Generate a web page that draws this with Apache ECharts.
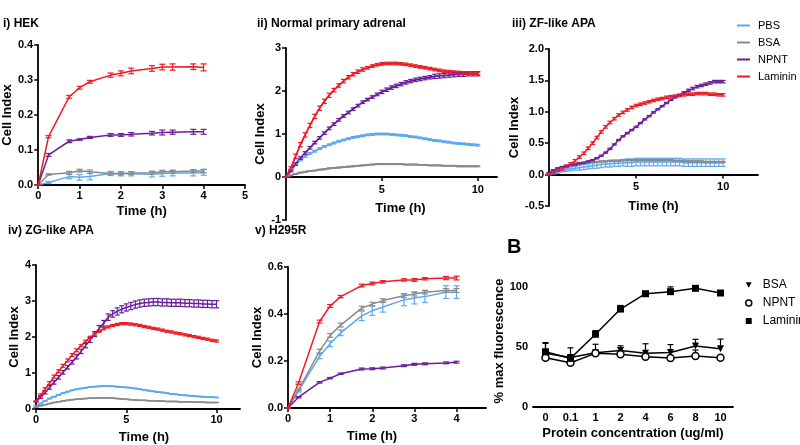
<!DOCTYPE html>
<html><head><meta charset="utf-8">
<script src="https://cdn.jsdelivr.net/npm/echarts@6/dist/echarts.min.js"></script>
<style>html,body{margin:0;padding:0;background:#fff}#c{width:800px;height:445px}</style>
</head><body><div id="c"></div><script>
// ---------- data ----------
const seriesNames = ['PBS', 'BSA', 'NPNT', 'Laminin'];
const tShort = [0, 0.25, 0.75, 1, 1.25, 1.75, 2, 2.25, 2.75, 3, 3.25, 3.75, 4];
const tLong = [0, 0.25, 0.5, 0.75, 1, 1.25, 1.5, 1.75, 2, 2.25, 2.5, 2.75, 3, 3.25, 3.5, 3.75, 4, 4.25, 4.5, 4.75, 5, 5.25, 5.5, 5.75, 6, 6.25, 6.5, 6.75, 7, 7.25, 7.5, 7.75, 8, 8.25, 8.5, 8.75, 9, 9.25, 9.5, 9.75, 10];

// i) HEK
const hekPBS = [0, 0.007, 0.024, 0.022, 0.024, 0.033, 0.032, 0.032, 0.031, 0.033, 0.034, 0.034, 0.036];
const hekPBSErr = [0, 0.003, 0.006, 0.008, 0.009, 0.006, 0.006, 0.006, 0.008, 0.008, 0.008, 0.008, 0.008];
const hekBSA = [0, 0.030, 0.035, 0.041, 0.038, 0.033, 0.033, 0.034, 0.035, 0.038, 0.038, 0.040, 0.040];
const hekBSAErr = [0, 0.002, 0.004, 0.004, 0.005, 0.004, 0.004, 0.004, 0.004, 0.004, 0.004, 0.004, 0.005];
const hekNPNT = [0, 0.086, 0.125, 0.130, 0.136, 0.143, 0.143, 0.145, 0.148, 0.150, 0.151, 0.152, 0.152];
const hekNPNTErr = [0, 0.004, 0.004, 0.002, 0.003, 0.004, 0.004, 0.005, 0.005, 0.007, 0.006, 0.007, 0.007];
const hekLam = [0, 0.138, 0.252, 0.278, 0.295, 0.314, 0.319, 0.326, 0.333, 0.337, 0.337, 0.338, 0.336];
const hekLamErr = [0, 0.003, 0.004, 0.004, 0.004, 0.006, 0.007, 0.008, 0.008, 0.008, 0.009, 0.008, 0.010];

// ii) Normal primary adrenal
const adrPBS = [0, 0.18, 0.3, 0.4, 0.48, 0.55, 0.6, 0.66, 0.71, 0.75, 0.79, 0.83, 0.86, 0.89, 0.92, 0.94, 0.96, 0.98, 0.99, 1.0, 1.0, 1.0, 0.99, 0.98, 0.97, 0.96, 0.94, 0.93, 0.91, 0.89, 0.87, 0.85, 0.84, 0.82, 0.81, 0.79, 0.78, 0.77, 0.76, 0.75, 0.74];
const adrPBSErr = [0, 0.01, 0.01, 0.02, 0.02, 0.02, 0.02, 0.02, 0.02, 0.02, 0.02, 0.02, 0.02, 0.02, 0.02, 0.02, 0.02, 0.02, 0.02, 0.02, 0.02, 0.02, 0.02, 0.02, 0.02, 0.02, 0.02, 0.02, 0.02, 0.02, 0.02, 0.02, 0.02, 0.02, 0.02, 0.02, 0.02, 0.02, 0.02, 0.02, 0.02];
const adrBSA = [0, 0.04, 0.07, 0.1, 0.12, 0.14, 0.15, 0.17, 0.18, 0.2, 0.21, 0.22, 0.23, 0.24, 0.25, 0.26, 0.27, 0.28, 0.29, 0.3, 0.3, 0.3, 0.3, 0.3, 0.3, 0.29, 0.29, 0.29, 0.28, 0.28, 0.27, 0.27, 0.27, 0.26, 0.26, 0.26, 0.25, 0.25, 0.25, 0.25, 0.25];
const adrBSAErr = [0, 0.01, 0.01, 0.01, 0.01, 0.01, 0.01, 0.01, 0.01, 0.01, 0.01, 0.01, 0.01, 0.01, 0.01, 0.01, 0.01, 0.01, 0.01, 0.01, 0.01, 0.01, 0.01, 0.01, 0.01, 0.01, 0.01, 0.01, 0.01, 0.01, 0.01, 0.01, 0.01, 0.01, 0.01, 0.01, 0.01, 0.01, 0.01, 0.01, 0.01];
const adrNPNT = [0, 0.14, 0.3, 0.44, 0.56, 0.68, 0.8, 0.91, 1.02, 1.13, 1.23, 1.33, 1.42, 1.5, 1.58, 1.66, 1.74, 1.8, 1.86, 1.92, 1.98, 2.03, 2.08, 2.12, 2.16, 2.2, 2.23, 2.26, 2.28, 2.3, 2.32, 2.34, 2.35, 2.36, 2.37, 2.38, 2.39, 2.39, 2.4, 2.4, 2.4];
const adrNPNTErr = [0, 0.02, 0.03, 0.03, 0.03, 0.03, 0.03, 0.03, 0.03, 0.03, 0.03, 0.03, 0.03, 0.03, 0.03, 0.03, 0.03, 0.03, 0.03, 0.03, 0.04, 0.04, 0.04, 0.04, 0.04, 0.04, 0.04, 0.04, 0.04, 0.04, 0.04, 0.05, 0.05, 0.05, 0.05, 0.05, 0.05, 0.05, 0.05, 0.05, 0.05];
const adrLam = [0, 0.2, 0.48, 0.75, 0.98, 1.2, 1.41, 1.6, 1.76, 1.9, 2.02, 2.13, 2.23, 2.32, 2.39, 2.45, 2.5, 2.54, 2.58, 2.61, 2.63, 2.64, 2.64, 2.64, 2.63, 2.62, 2.6, 2.58, 2.56, 2.54, 2.52, 2.5, 2.48, 2.46, 2.45, 2.44, 2.43, 2.42, 2.42, 2.41, 2.41];
const adrLamErr = [0, 0.04, 0.05, 0.05, 0.05, 0.05, 0.05, 0.05, 0.05, 0.05, 0.04, 0.04, 0.04, 0.04, 0.04, 0.04, 0.04, 0.03, 0.03, 0.03, 0.03, 0.03, 0.03, 0.03, 0.03, 0.03, 0.03, 0.03, 0.03, 0.03, 0.03, 0.03, 0.03, 0.03, 0.03, 0.03, 0.03, 0.03, 0.03, 0.03, 0.03];

// iii) ZF-like APA
const zfPBS = [0, 0.02, 0.04, 0.06, 0.08, 0.09, 0.1, 0.11, 0.12, 0.13, 0.14, 0.15, 0.16, 0.17, 0.17, 0.18, 0.18, 0.19, 0.19, 0.19, 0.2, 0.2, 0.2, 0.2, 0.2, 0.2, 0.2, 0.2, 0.2, 0.2, 0.2, 0.19, 0.19, 0.19, 0.19, 0.19, 0.19, 0.19, 0.19, 0.19, 0.19];
const zfPBSErr = [0, 0.01, 0.02, 0.02, 0.03, 0.03, 0.03, 0.04, 0.04, 0.04, 0.04, 0.05, 0.05, 0.05, 0.05, 0.05, 0.05, 0.05, 0.06, 0.06, 0.06, 0.06, 0.06, 0.06, 0.06, 0.06, 0.06, 0.06, 0.06, 0.06, 0.06, 0.06, 0.06, 0.06, 0.06, 0.06, 0.06, 0.06, 0.06, 0.06, 0.06];
const zfBSA = [0.02, 0.06, 0.09, 0.11, 0.13, 0.15, 0.16, 0.17, 0.18, 0.19, 0.2, 0.2, 0.21, 0.21, 0.22, 0.22, 0.22, 0.23, 0.23, 0.23, 0.23, 0.23, 0.23, 0.23, 0.23, 0.23, 0.23, 0.23, 0.23, 0.22, 0.22, 0.22, 0.21, 0.21, 0.21, 0.21, 0.2, 0.2, 0.2, 0.2, 0.2];
const zfBSAErr = [0, 0.01, 0.01, 0.01, 0.01, 0.01, 0.01, 0.01, 0.01, 0.01, 0.01, 0.01, 0.01, 0.01, 0.01, 0.01, 0.01, 0.01, 0.01, 0.01, 0.01, 0.01, 0.01, 0.01, 0.01, 0.01, 0.01, 0.01, 0.01, 0.01, 0.01, 0.01, 0.01, 0.01, 0.01, 0.01, 0.01, 0.01, 0.01, 0.01, 0.01];
const zfNPNT = [0.03, 0.07, 0.1, 0.12, 0.14, 0.15, 0.16, 0.18, 0.19, 0.21, 0.23, 0.26, 0.3, 0.35, 0.41, 0.48, 0.55, 0.61, 0.66, 0.71, 0.76, 0.82, 0.88, 0.93, 0.99, 1.04, 1.09, 1.14, 1.19, 1.23, 1.27, 1.31, 1.34, 1.37, 1.4, 1.42, 1.44, 1.46, 1.48, 1.48, 1.48];
const zfNPNTErr = [0, 0.01, 0.01, 0.01, 0.01, 0.01, 0.01, 0.01, 0.01, 0.01, 0.01, 0.01, 0.01, 0.01, 0.01, 0.01, 0.01, 0.01, 0.01, 0.01, 0.01, 0.01, 0.01, 0.01, 0.01, 0.01, 0.01, 0.01, 0.01, 0.01, 0.01, 0.01, 0.02, 0.02, 0.02, 0.02, 0.02, 0.02, 0.02, 0.02, 0.02];
const zfLam = [0, 0.03, 0.06, 0.09, 0.13, 0.17, 0.22, 0.28, 0.34, 0.42, 0.5, 0.59, 0.68, 0.76, 0.83, 0.89, 0.95, 0.99, 1.03, 1.07, 1.1, 1.12, 1.14, 1.16, 1.18, 1.2, 1.21, 1.23, 1.24, 1.25, 1.26, 1.27, 1.28, 1.28, 1.29, 1.29, 1.29, 1.28, 1.28, 1.27, 1.27];
const zfLamErr = [0, 0.01, 0.01, 0.02, 0.02, 0.02, 0.02, 0.02, 0.02, 0.02, 0.02, 0.02, 0.02, 0.02, 0.02, 0.02, 0.02, 0.02, 0.02, 0.02, 0.02, 0.02, 0.02, 0.02, 0.02, 0.02, 0.02, 0.02, 0.02, 0.02, 0.02, 0.02, 0.02, 0.02, 0.02, 0.02, 0.02, 0.02, 0.02, 0.02, 0.02];

// iv) ZG-like APA
const zgPBS = [0.08, 0.15, 0.22, 0.29, 0.34, 0.39, 0.44, 0.48, 0.52, 0.55, 0.57, 0.59, 0.61, 0.62, 0.63, 0.64, 0.64, 0.63, 0.62, 0.61, 0.6, 0.59, 0.57, 0.55, 0.53, 0.51, 0.49, 0.47, 0.46, 0.44, 0.42, 0.41, 0.39, 0.38, 0.37, 0.36, 0.35, 0.34, 0.33, 0.33, 0.32];
const zgPBSErr = [0, 0.01, 0.01, 0.01, 0.01, 0.01, 0.01, 0.01, 0.01, 0.01, 0.01, 0.01, 0.01, 0.01, 0.01, 0.01, 0.01, 0.01, 0.01, 0.01, 0.01, 0.01, 0.01, 0.01, 0.01, 0.01, 0.01, 0.01, 0.01, 0.01, 0.01, 0.01, 0.01, 0.01, 0.01, 0.01, 0.01, 0.01, 0.01, 0.01, 0.01];
const zgBSA = [0.05, 0.09, 0.12, 0.15, 0.18, 0.2, 0.22, 0.24, 0.26, 0.27, 0.28, 0.29, 0.3, 0.3, 0.31, 0.31, 0.31, 0.3, 0.29, 0.28, 0.27, 0.26, 0.25, 0.24, 0.24, 0.23, 0.23, 0.22, 0.22, 0.21, 0.21, 0.21, 0.2, 0.2, 0.2, 0.19, 0.19, 0.19, 0.18, 0.18, 0.18];
const zgBSAErr = [0, 0.005, 0.005, 0.005, 0.005, 0.005, 0.005, 0.005, 0.005, 0.005, 0.005, 0.005, 0.005, 0.005, 0.005, 0.005, 0.005, 0.005, 0.005, 0.005, 0.005, 0.005, 0.005, 0.005, 0.005, 0.005, 0.005, 0.005, 0.005, 0.005, 0.005, 0.005, 0.005, 0.005, 0.005, 0.005, 0.005, 0.005, 0.005, 0.005, 0.005];
const zgNPNT = [0.2, 0.33, 0.46, 0.6, 0.74, 0.88, 1.02, 1.16, 1.3, 1.45, 1.6, 1.76, 1.92, 2.08, 2.24, 2.38, 2.55, 2.64, 2.71, 2.77, 2.82, 2.86, 2.9, 2.93, 2.95, 2.96, 2.97, 2.97, 2.96, 2.96, 2.95, 2.95, 2.95, 2.94, 2.94, 2.93, 2.93, 2.92, 2.92, 2.91, 2.91];
const zgNPNTErr = [0, 0.04, 0.04, 0.05, 0.05, 0.05, 0.05, 0.05, 0.05, 0.06, 0.06, 0.06, 0.07, 0.07, 0.08, 0.08, 0.09, 0.09, 0.1, 0.1, 0.1, 0.1, 0.1, 0.1, 0.1, 0.1, 0.1, 0.1, 0.1, 0.1, 0.1, 0.1, 0.1, 0.1, 0.1, 0.1, 0.1, 0.1, 0.1, 0.1, 0.1];
const zgLam = [0.22, 0.38, 0.55, 0.72, 0.9, 1.05, 1.2, 1.35, 1.5, 1.63, 1.76, 1.88, 1.99, 2.08, 2.16, 2.23, 2.28, 2.32, 2.35, 2.37, 2.37, 2.36, 2.34, 2.32, 2.29, 2.27, 2.24, 2.22, 2.19, 2.16, 2.14, 2.11, 2.09, 2.06, 2.04, 2.01, 1.99, 1.96, 1.94, 1.91, 1.89];
const zgLamErr = [0, 0.04, 0.04, 0.04, 0.04, 0.04, 0.04, 0.04, 0.04, 0.04, 0.03, 0.03, 0.03, 0.03, 0.03, 0.03, 0.03, 0.03, 0.03, 0.03, 0.03, 0.03, 0.03, 0.03, 0.03, 0.03, 0.03, 0.03, 0.03, 0.03, 0.03, 0.03, 0.03, 0.03, 0.03, 0.03, 0.03, 0.03, 0.03, 0.03, 0.03];

// v) H295R
const hPBS = [0, 0.073, 0.22, 0.273, 0.32, 0.392, 0.414, 0.43, 0.46, 0.468, 0.474, 0.493, 0.493];
const hPBSErr = [0, 0.005, 0.01, 0.012, 0.012, 0.02, 0.02, 0.022, 0.025, 0.025, 0.025, 0.027, 0.027];
const hBSA = [0, 0.077, 0.242, 0.309, 0.353, 0.425, 0.442, 0.457, 0.478, 0.485, 0.493, 0.5, 0.5];
const hBSAErr = [0, 0.004, 0.008, 0.008, 0.008, 0.008, 0.008, 0.008, 0.008, 0.008, 0.008, 0.008, 0.008];
const hNPNT = [0, 0.046, 0.109, 0.127, 0.146, 0.166, 0.167, 0.17, 0.18, 0.186, 0.188, 0.192, 0.195];
const hNPNTErr = [0, 0.003, 0.003, 0.003, 0.003, 0.004, 0.004, 0.004, 0.004, 0.004, 0.004, 0.004, 0.004];
const hLam = [0, 0.106, 0.368, 0.434, 0.474, 0.521, 0.53, 0.537, 0.545, 0.545, 0.55, 0.553, 0.553];
const hLamErr = [0, 0.005, 0.006, 0.006, 0.005, 0.006, 0.006, 0.005, 0.005, 0.006, 0.005, 0.007, 0.008];

// B) fluorescence
const concLabels = ['0', '0.1', '1', '2', '4', '6', '8', '10'];
const bBSA = [44.7, 41.3, 45.3, 47, 44.7, 45.5, 50.8, 48.6];
const bBSAErr = [9, 8, 7, 4, 8, 6.5, 5.6, 8];
const bNPNT = [41, 36.9, 44.7, 43.9, 41.9, 40.8, 42.5, 41];
const bNPNTErr = [1, 1, 1, 1, 1, 1, 5, 1];
const bLam = [46, 40.5, 60.6, 81.6, 94.4, 96.1, 98.9, 95];
const bLamErr = [7, 2, 3, 3, 1, 4, 1, 2];

// ---------- styling ----------
const FONT = 'Liberation Sans, Arial, Helvetica, sans-serif';
const colors = { PBS: '#5ea8ef', BSA: '#8a8a8a', NPNT: '#6a1e9c', Laminin: '#ec1c24' };
const axisLine = { onZero: false, lineStyle: { color: '#000', width: 1.8 } };
const axisTick = { length: 4, lineStyle: { color: '#000', width: 1.5 } };
const labelStyle = { color: '#000', fontWeight: 'bold', fontSize: 11, fontFamily: FONT, margin: 5 };
const nameStyle = { color: '#000', fontWeight: 'bold', fontSize: 13, fontFamily: FONT };

const grids = [
  { left: 36, top: 45, width: 209, height: 140 },   // i
  { left: 286, top: 48, width: 211, height: 172 },  // ii
  { left: 549, top: 49, width: 209, height: 157 },  // iii
  { left: 36, top: 265, width: 204, height: 145 },  // iv
  { left: 288, top: 267, width: 198, height: 141 }, // v
  { left: 533, top: 275, width: 200, height: 132 }  // B
];

function xVal(gi, min, max, ticks, name, nameGap, pad, offset, margin) {
  return {
    type: 'value', gridIndex: gi, min: min, max: max, offset: offset || 0,
    axisLine: axisLine, splitLine: { show: false },
    axisTick: Object.assign({ customValues: ticks }, axisTick),
    axisLabel: Object.assign({}, labelStyle, { customValues: ticks, margin: margin || 5 }),
    name: name, nameLocation: 'middle', nameGap: nameGap,
    nameTextStyle: Object.assign({ padding: pad || 0 }, nameStyle)
  };
}
function yVal(gi, min, max, ticks, fmt, name, nameGap) {
  return {
    type: 'value', gridIndex: gi, min: min, max: max,
    axisLine: axisLine, splitLine: { show: false },
    axisTick: Object.assign({ customValues: ticks }, axisTick),
    axisLabel: Object.assign({ customValues: ticks, formatter: fmt }, labelStyle),
    name: name, nameLocation: 'middle', nameGap: nameGap,
    nameTextStyle: nameStyle
  };
}
const f1 = v => v.toFixed(1);
const f0 = v => String(v);

const xAxes = [
  xVal(0, 0, 5, [0, 1, 2, 3, 4, 5], 'Time (h)', 20),
  xVal(1, 0, 11, [5, 10], 'Time (h)', 25, [0, 0, 0, 18], -43, 7),
  xVal(2, 0, 12, [5, 10], 'Time (h)', 25, 0, -31.4, 7),
  xVal(3, 0, 11.3, [0, 5, 10], 'Time (h)', 22, [0, 0, 0, 12]),
  xVal(4, 0, 4.7, [0, 1, 2, 3, 4], 'Time (h)', 22, [0, 30, 0, 0]),
  {
    type: 'category', gridIndex: 5, data: concLabels, boundaryGap: true,
    axisLine: axisLine, axisTick: Object.assign({ alignWithLabel: true }, axisTick),
    axisLabel: labelStyle, splitLine: { show: false },
    name: 'Protein concentration (ug/ml)', nameLocation: 'middle', nameGap: 20, nameTextStyle: nameStyle
  }
];
const yAxes = [
  yVal(0, 0, 0.4, [0, 0.1, 0.2, 0.3, 0.4], f1, 'Cell Index', 24),
  yVal(1, -1, 3, [-1, 0, 1, 2, 3], f0, 'Cell Index', 16),
  yVal(2, -0.5, 2, [-0.5, 0, 0.5, 1, 1.5, 2], f1, 'Cell Index', 22),
  yVal(3, 0, 4, [0, 1, 2, 3, 4], f0, 'Cell Index', 14),
  yVal(4, 0, 0.6, [0, 0.2, 0.4, 0.6], f1, 'Cell Index', 22),
  yVal(5, 0, 110, [0, 50, 100], f0, '% max fluorescence', 24)
];

function errRender(cap, oneSided) {
  return function (params, api) {
    const x = api.value(0), lo = api.value(1), hi = api.value(2);
    const a = api.coord([x, lo]), b = api.coord([x, hi]);
    const st = { stroke: api.visual('color'), lineWidth: 1.2 };
    const ch = [
      { type: 'line', shape: { x1: a[0], y1: a[1], x2: b[0], y2: b[1] }, style: st },
      { type: 'line', shape: { x1: b[0] - cap, y1: b[1], x2: b[0] + cap, y2: b[1] }, style: st }
    ];
    if (!oneSided) ch.push({ type: 'line', shape: { x1: a[0] - cap, y1: a[1], x2: a[0] + cap, y2: a[1] }, style: st });
    return { type: 'group', children: ch };
  };
}

const series = [];
function addPanel(gi, xs, sets, cap, lw) {
  sets.forEach(([nm, ys, es]) => {
    const col = colors[nm];
    series.push({
      type: 'line', name: nm, xAxisIndex: gi, yAxisIndex: gi, showSymbol: false, symbol: 'none',
      data: xs.map((x, i) => [x, ys[i]]), lineStyle: { color: col, width: lw }, itemStyle: { color: col },
      silent: true, animation: false, z: 2
    });
    series.push({
      type: 'custom', xAxisIndex: gi, yAxisIndex: gi, renderItem: errRender(cap, false),
      itemStyle: { color: col }, data: xs.map((x, i) => [x, ys[i] - es[i], ys[i] + es[i]]),
      silent: true, animation: false, z: 3
    });
  });
}
addPanel(0, tShort, [['PBS', hekPBS, hekPBSErr], ['BSA', hekBSA, hekBSAErr], ['NPNT', hekNPNT, hekNPNTErr], ['Laminin', hekLam, hekLamErr]], 3, 1.5);
addPanel(1, tLong, [['PBS', adrPBS, adrPBSErr], ['BSA', adrBSA, adrBSAErr], ['NPNT', adrNPNT, adrNPNTErr], ['Laminin', adrLam, adrLamErr]], 2.5, 1.8);
addPanel(2, tLong, [['PBS', zfPBS, zfPBSErr], ['BSA', zfBSA, zfBSAErr], ['NPNT', zfNPNT, zfNPNTErr], ['Laminin', zfLam, zfLamErr]], 2.5, 1.5);
addPanel(3, tLong, [['PBS', zgPBS, zgPBSErr], ['BSA', zgBSA, zgBSAErr], ['NPNT', zgNPNT, zgNPNTErr], ['Laminin', zgLam, zgLamErr]], 2.5, 1.5);
addPanel(4, tShort, [['PBS', hPBS, hPBSErr], ['BSA', hBSA, hBSAErr], ['NPNT', hNPNT, hNPNTErr], ['Laminin', hLam, hLamErr]], 3, 1.5);

// Panel B
const bSets = [
  ['B:BSA', bBSA, bBSAErr, 'triangle', 180, '#000'],
  ['B:NPNT', bNPNT, bNPNTErr, 'circle', 0, '#fff'],
  ['B:Laminin', bLam, bLamErr, 'rect', 0, '#000']
];
bSets.forEach(([nm, ys, es, sym, rot, fill]) => {
  series.push({
    type: 'custom', xAxisIndex: 5, yAxisIndex: 5, renderItem: errRender(3, true),
    itemStyle: { color: '#000' }, data: ys.map((y, i) => [i, y, y + es[i]]), silent: true, animation: false, z: 1
  });
  series.push({
    type: 'line', name: nm, xAxisIndex: 5, yAxisIndex: 5, data: ys, symbol: sym, symbolRotate: rot,
    symbolSize: 7, showSymbol: true, lineStyle: { color: '#000', width: 1.5 },
    itemStyle: { color: fill, borderColor: '#000', borderWidth: sym === 'circle' ? 1.5 : 0 },
    silent: true, animation: false, z: 4
  });
});

const titleStyle = { color: '#000', fontWeight: 'bold', fontSize: 12, fontFamily: FONT };
const option = {
  backgroundColor: '#fff',
  animation: false,
  title: [
    { text: 'i) HEK', left: 3, top: 18, textStyle: titleStyle, padding: 0 },
    { text: 'ii) Normal primary adrenal', left: 257, top: 18, textStyle: titleStyle, padding: 0 },
    { text: 'iii) ZF-like APA', left: 512, top: 18, textStyle: titleStyle, padding: 0 },
    { text: 'iv) ZG-like APA', left: 8, top: 225, textStyle: titleStyle, padding: 0 },
    { text: 'v) H295R', left: 255, top: 225, textStyle: titleStyle, padding: 0 },
    { text: 'B', left: 507, top: 237, textStyle: Object.assign({}, titleStyle, { fontSize: 20 }), padding: 0 }
  ],
  legend: [
    {
      data: seriesNames.map(n => ({ name: n, icon: 'rect' })), orient: 'vertical', left: 737, top: 20,
      itemWidth: 13, itemHeight: 2, itemGap: 6, selectedMode: false, padding: 0,
      textStyle: { color: '#000', fontSize: 11, fontFamily: FONT, padding: [0, 0, 0, 3] }
    },
    {
      data: [
        { name: 'B:BSA', icon: 'path://M0,0L10,0L5,9Z', itemStyle: { color: '#000' } },
        { name: 'B:NPNT', icon: 'circle', itemStyle: { color: '#fff', borderColor: '#000', borderWidth: 1.5 } },
        { name: 'B:Laminin', icon: 'rect', itemStyle: { color: '#000' } }
      ],
      formatter: n => n.replace('B:', ''),
      orient: 'vertical', left: 745, top: 279, itemWidth: 6, itemHeight: 6, itemGap: 6, selectedMode: false, padding: 0,
      textStyle: { color: '#000', fontSize: 12, fontFamily: FONT, padding: [0, 0, 0, 6] }
    }
  ],
  grid: grids,
  xAxis: xAxes,
  yAxis: yAxes,
  series: series
};
const chart = echarts.init(document.getElementById('c'), null, { renderer: 'canvas' });
chart.setOption(option);
</script></body></html>
